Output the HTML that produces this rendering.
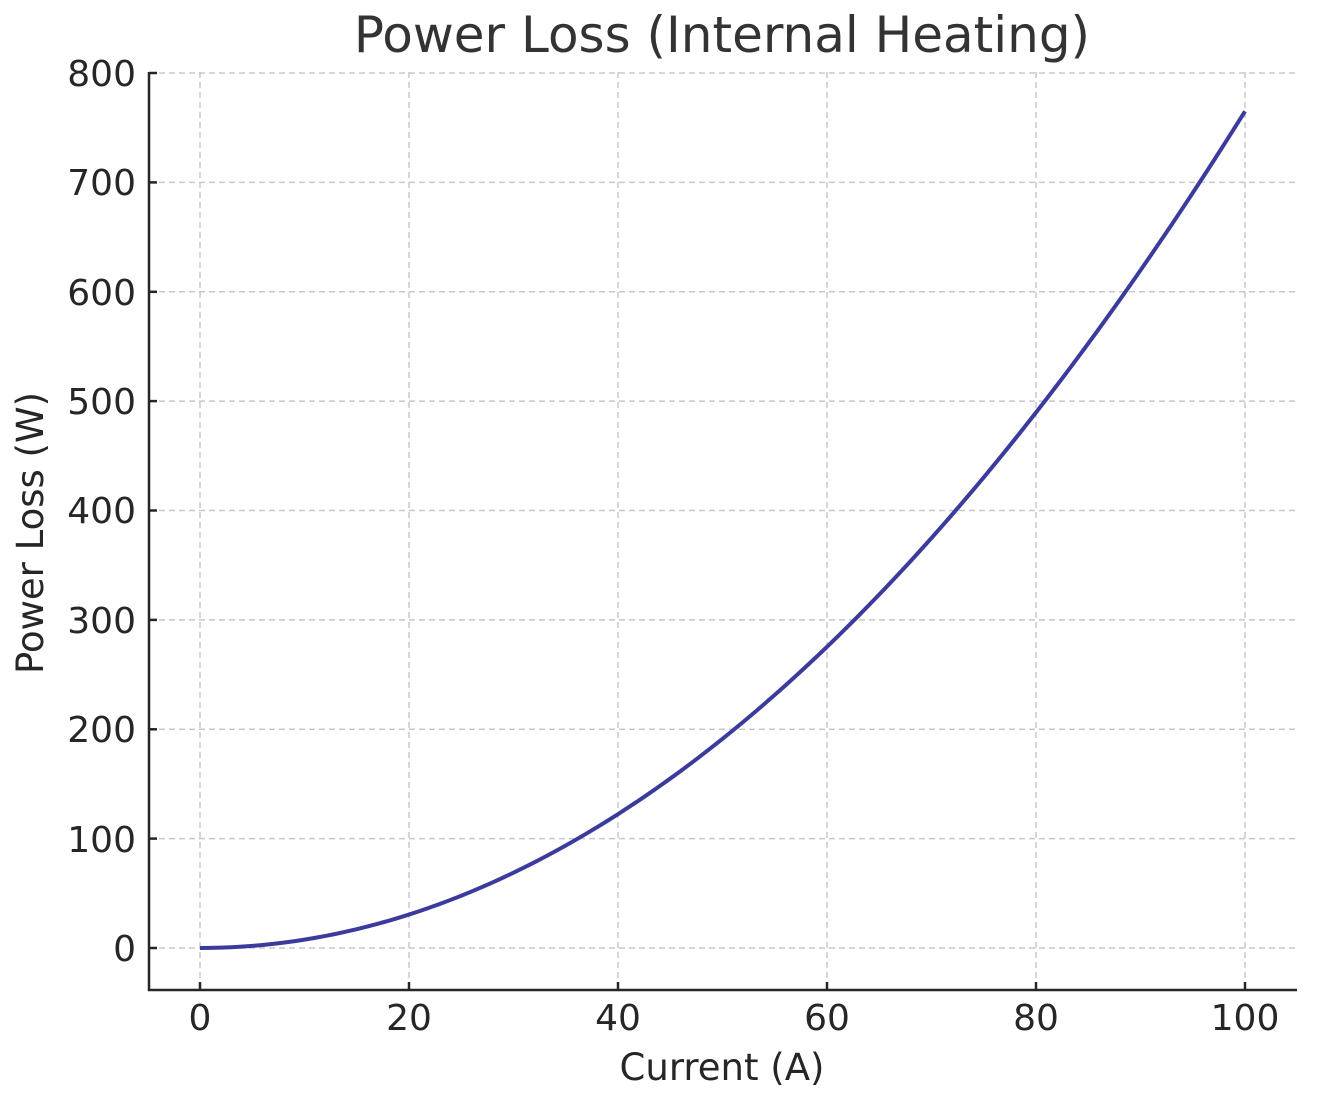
<!DOCTYPE html>
<html><head><meta charset="utf-8"><style>
html,body{margin:0;padding:0;background:#fff;}
svg{display:block;}
text{font-family:"DejaVu Sans","Liberation Sans",sans-serif;fill:#262626;}
</style></head><body>
<svg width="1318" height="1105" viewBox="0 0 1318 1105" xmlns="http://www.w3.org/2000/svg">
<g stroke="#c8c8c8" stroke-width="1.5" stroke-dasharray="6,4" fill="none">
<line x1="200" y1="72" x2="200" y2="990"/>
<line x1="409" y1="72" x2="409" y2="990"/>
<line x1="618" y1="72" x2="618" y2="990"/>
<line x1="827" y1="72" x2="827" y2="990"/>
<line x1="1036" y1="72" x2="1036" y2="990"/>
<line x1="1245" y1="72" x2="1245" y2="990"/>
<line x1="149" y1="73" x2="1297" y2="73"/>
<line x1="149" y1="182.4" x2="1297" y2="182.4"/>
<line x1="149" y1="291.8" x2="1297" y2="291.8"/>
<line x1="149" y1="401.1" x2="1297" y2="401.1"/>
<line x1="149" y1="510.5" x2="1297" y2="510.5"/>
<line x1="149" y1="619.9" x2="1297" y2="619.9"/>
<line x1="149" y1="729.3" x2="1297" y2="729.3"/>
<line x1="149" y1="838.6" x2="1297" y2="838.6"/>
<line x1="149" y1="948" x2="1297" y2="948"/>
</g>
<path id="c" fill="none" stroke="#3b3b9e" stroke-width="4" stroke-linejoin="round" d="M200,948"/>
<g stroke="#262626" stroke-width="2.5" fill="none">
<line x1="149" y1="72" x2="149" y2="991"/>
<line x1="148" y1="990" x2="1297" y2="990"/>
<line x1="149" y1="73" x2="157" y2="73"/>
<line x1="149" y1="182.4" x2="157" y2="182.4"/>
<line x1="149" y1="291.8" x2="157" y2="291.8"/>
<line x1="149" y1="401.1" x2="157" y2="401.1"/>
<line x1="149" y1="510.5" x2="157" y2="510.5"/>
<line x1="149" y1="619.9" x2="157" y2="619.9"/>
<line x1="149" y1="729.3" x2="157" y2="729.3"/>
<line x1="149" y1="838.6" x2="157" y2="838.6"/>
<line x1="149" y1="948" x2="157" y2="948"/>
<line x1="200" y1="990" x2="200" y2="982"/>
<line x1="409" y1="990" x2="409" y2="982"/>
<line x1="618" y1="990" x2="618" y2="982"/>
<line x1="827" y1="990" x2="827" y2="982"/>
<line x1="1036" y1="990" x2="1036" y2="982"/>
<line x1="1245" y1="990" x2="1245" y2="982"/>
</g>
<g font-size="36" text-anchor="end">
<text x="136" y="86">800</text>
<text x="136" y="195">700</text>
<text x="136" y="305">600</text>
<text x="136" y="414">500</text>
<text x="136" y="523">400</text>
<text x="136" y="633">300</text>
<text x="136" y="742">200</text>
<text x="136" y="852">100</text>
<text x="136" y="961">0</text>
</g>
<g font-size="36" text-anchor="middle">
<text x="200" y="1030">0</text>
<text x="409" y="1030">20</text>
<text x="618" y="1030">40</text>
<text x="827" y="1030">60</text>
<text x="1036" y="1030">80</text>
<text x="1245" y="1030">100</text>
<text x="722" y="1080" font-size="37">Current (A)</text>
<text transform="translate(43,533) rotate(-90)" font-size="37">Power Loss (W)</text>
<text x="722" y="52" font-size="50" style="fill:#333">Power Loss (Internal Heating)</text>
</g>
<script>
var d="M200,948";for(var i=1;i<=100;i++){var x=200+i*10.45,y=948-0.0765*i*i*1.09375;d+=" L"+x.toFixed(2)+","+y.toFixed(2);}
document.getElementById("c").setAttribute("d",d);
</script>
</svg>
</body></html>
